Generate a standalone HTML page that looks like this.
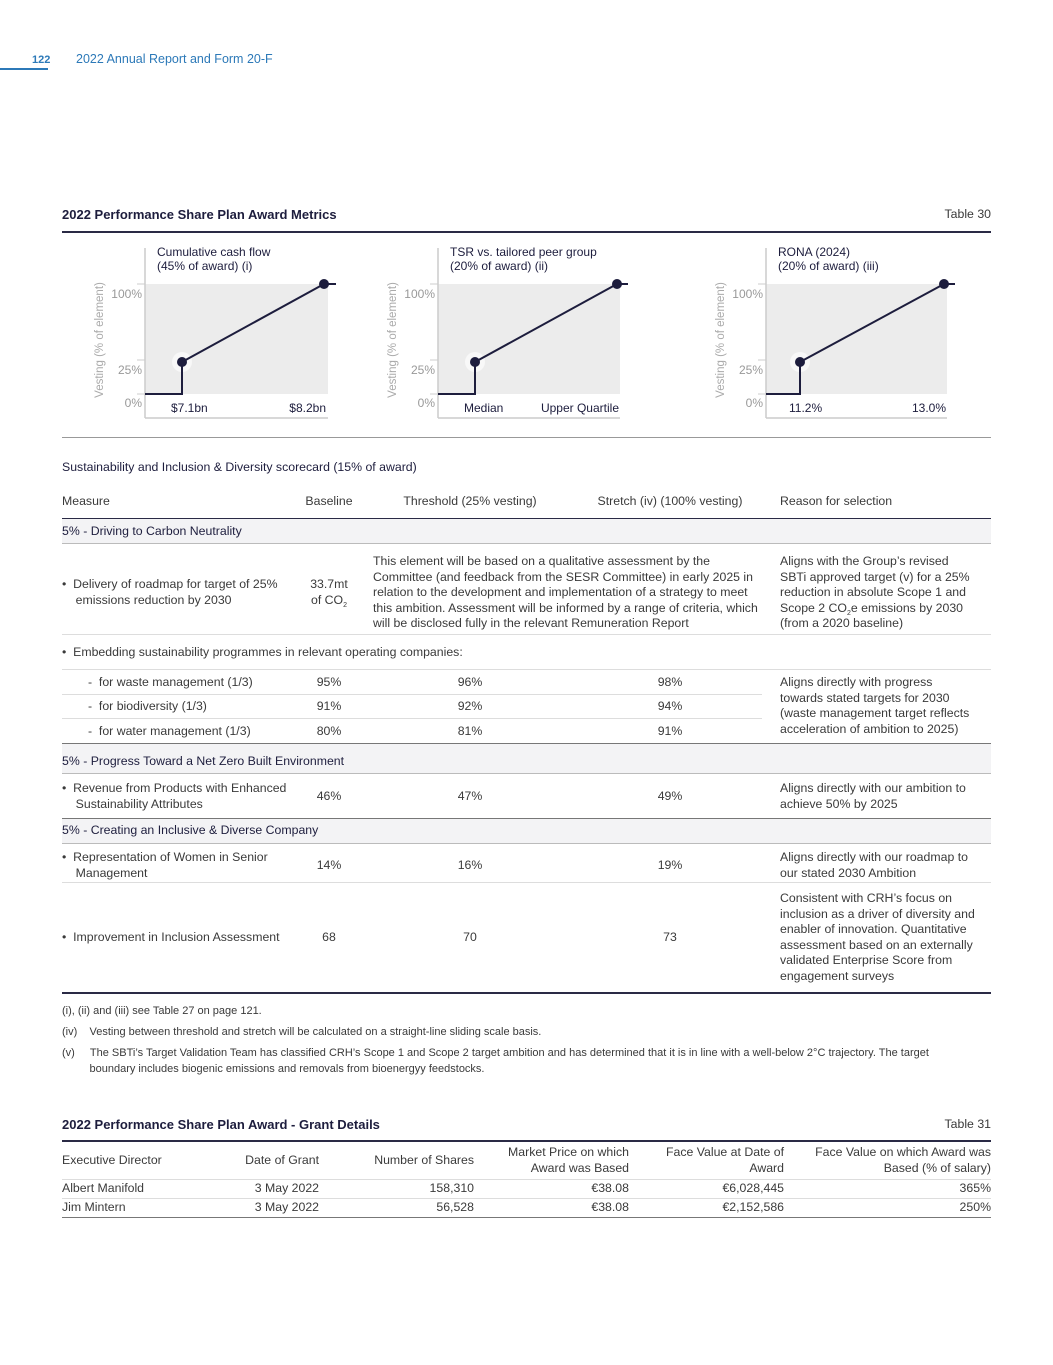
<!DOCTYPE html>
<html><head><meta charset="utf-8"><style>
body{margin:0;width:1053px;height:1365px;background:#fff;position:relative;font-family:"Liberation Sans",sans-serif;color:#3a3a3a;overflow:hidden}
.t{position:absolute;font-size:12.3px;line-height:15.5px;white-space:nowrap}
.c{text-align:center}.r{text-align:right}
.hl{position:absolute;left:62px;width:929px;height:1px;background:#ddd}
.dk{background:#2a2a45;height:1.5px}
.sec{position:absolute;left:62px;width:929px;background:#f3f3f5}
.navy{color:#1d1d3d}
sub{font-size:7px;vertical-align:baseline;position:relative;top:3px;line-height:0}
</style></head><body>
<div style="position:absolute;left:0;top:68px;width:48px;height:2px;background:#2c79b8"></div>
<div class="t" style="left:32px;top:53px;color:#2c79b8;font-weight:bold;font-size:11px">122</div>
<div class="t" style="left:76px;top:52px;color:#2c79b8;font-size:12.5px">2022 Annual Report and Form 20-F</div>

<div class="t navy" style="left:62px;top:207px;font-size:13px;font-weight:bold">2022 Performance Share Plan Award Metrics</div>
<div class="t" style="right:62px;top:207px">Table 30</div>
<div class="hl dk" style="top:231px"></div>

<svg width="1053" height="200" style="position:absolute;left:0;top:240px" id="charts"></svg>
<div class="hl" style="top:437px;background:#999"></div>

<div class="t navy" style="left:62px;top:460px">Sustainability and Inclusion &amp; Diversity scorecard (15% of award)</div>
<div class="t" style="left:62px;top:494px">Measure</div>
<div class="t c" style="left:289px;width:80px;top:494px">Baseline</div>
<div class="t c" style="left:380px;width:180px;top:494px">Threshold (25% vesting)</div>
<div class="t c" style="left:570px;width:200px;top:494px">Stretch (iv) (100% vesting)</div>
<div class="t" style="left:780px;top:494px">Reason for selection</div>
<div class="hl dk" style="top:518px"></div>

<div class="sec" style="top:519px;height:24px"></div>
<div class="t navy" style="left:62px;top:524px">5% - Driving to Carbon Neutrality</div>
<div class="hl" style="top:543px;background:#bbb"></div>
<div class="t" style="left:62px;top:577px">•&nbsp; Delivery of roadmap for target of 25%<br>&nbsp;&nbsp;&nbsp; emissions reduction by 2030</div>
<div class="t c" style="left:289px;width:80px;top:577px">33.7mt<br>of CO<sub>2</sub></div>
<div class="t" style="left:373px;top:554px">This element will be based on a qualitative assessment by the<br>Committee (and feedback from the SESR Committee) in early 2025 in<br>relation to the development and implementation of a strategy to meet<br>this ambition. Assessment will be informed by a range of criteria, which<br>will be disclosed fully in the relevant Remuneration Report</div>
<div class="t" style="left:780px;top:554px">Aligns with the Group’s revised<br>SBTi approved target (v) for a 25%<br>reduction in absolute Scope 1 and<br>Scope 2 CO<sub>2</sub>e emissions by 2030<br>(from a 2020 baseline)</div>
<div class="hl" style="top:634px"></div>
<div class="t" style="left:62px;top:645px">•&nbsp; Embedding sustainability programmes in relevant operating companies:</div>
<div class="hl" style="top:669px"></div>
<div class="t" style="left:88px;top:675px">-&nbsp; for waste management (1/3)</div>
<div class="t c" style="left:289px;width:80px;top:675px">95%</div><div class="t c" style="left:380px;width:180px;top:675px">96%</div><div class="t c" style="left:570px;width:200px;top:675px">98%</div>
<div class="hl" style="top:694px;width:700px"></div>
<div class="t" style="left:88px;top:699px">-&nbsp; for biodiversity (1/3)</div>
<div class="t c" style="left:289px;width:80px;top:699px">91%</div><div class="t c" style="left:380px;width:180px;top:699px">92%</div><div class="t c" style="left:570px;width:200px;top:699px">94%</div>
<div class="hl" style="top:718px;width:700px"></div>
<div class="t" style="left:88px;top:724px">-&nbsp; for water management (1/3)</div>
<div class="t c" style="left:289px;width:80px;top:724px">80%</div><div class="t c" style="left:380px;width:180px;top:724px">81%</div><div class="t c" style="left:570px;width:200px;top:724px">91%</div>
<div class="t" style="left:780px;top:675px">Aligns directly with progress<br>towards stated targets for 2030<br>(waste management target reflects<br>acceleration of ambition to 2025)</div>
<div class="hl" style="top:743px;background:#777"></div>

<div class="sec" style="top:744px;height:29px"></div>
<div class="t navy" style="left:62px;top:754px">5% - Progress Toward a Net Zero Built Environment</div>
<div class="hl" style="top:773px;background:#bbb"></div>
<div class="t" style="left:62px;top:781px">•&nbsp; Revenue from Products with Enhanced<br>&nbsp;&nbsp;&nbsp; Sustainability Attributes</div>
<div class="t c" style="left:289px;width:80px;top:789px">46%</div><div class="t c" style="left:380px;width:180px;top:789px">47%</div><div class="t c" style="left:570px;width:200px;top:789px">49%</div>
<div class="t" style="left:780px;top:781px">Aligns directly with our ambition to<br>achieve 50% by 2025</div>
<div class="hl" style="top:818px;background:#777"></div>

<div class="sec" style="top:819px;height:24px"></div>
<div class="t navy" style="left:62px;top:823px">5% - Creating an Inclusive &amp; Diverse Company</div>
<div class="hl" style="top:843px;background:#bbb"></div>
<div class="t" style="left:62px;top:850px">•&nbsp; Representation of Women in Senior<br>&nbsp;&nbsp;&nbsp; Management</div>
<div class="t c" style="left:289px;width:80px;top:858px">14%</div><div class="t c" style="left:380px;width:180px;top:858px">16%</div><div class="t c" style="left:570px;width:200px;top:858px">19%</div>
<div class="t" style="left:780px;top:850px">Aligns directly with our roadmap to<br>our stated 2030 Ambition</div>
<div class="hl" style="top:882px"></div>
<div class="t" style="left:62px;top:930px">•&nbsp; Improvement in Inclusion Assessment</div>
<div class="t c" style="left:289px;width:80px;top:930px">68</div><div class="t c" style="left:380px;width:180px;top:930px">70</div><div class="t c" style="left:570px;width:200px;top:930px">73</div>
<div class="t" style="left:780px;top:891px">Consistent with CRH’s focus on<br>inclusion as a driver of diversity and<br>enabler of innovation. Quantitative<br>assessment based on an externally<br>validated Enterprise Score from<br>engagement surveys</div>
<div class="hl dk" style="top:992px"></div>

<div class="t" style="left:62px;top:1004px;font-size:11px">(i), (ii) and (iii) see Table 27 on page 121.</div>
<div class="t" style="left:62px;top:1025px;font-size:11px">(iv)&nbsp;&nbsp;&nbsp; Vesting between threshold and stretch will be calculated on a straight-line sliding scale basis.</div>
<div class="t" style="left:62px;top:1046px;font-size:11px">(v)&nbsp;&nbsp;&nbsp;&nbsp; The SBTi’s Target Validation Team has classified CRH’s Scope 1 and Scope 2 target ambition and has determined that it is in line with a well-below 2°C trajectory. The target<br>&nbsp;&nbsp;&nbsp;&nbsp;&nbsp;&nbsp;&nbsp;&nbsp; boundary includes biogenic emissions and removals from bioenergyy feedstocks.</div>

<div class="t navy" style="left:62px;top:1117px;font-size:13px;font-weight:bold">2022 Performance Share Plan Award - Grant Details</div>
<div class="t" style="right:62px;top:1117px">Table 31</div>
<div class="hl dk" style="top:1140px"></div>
<div class="t" style="left:62px;top:1153px">Executive Director</div>
<div class="t r" style="right:734px;top:1153px">Date of Grant</div>
<div class="t r" style="right:579px;top:1153px">Number of Shares</div>
<div class="t r" style="right:424px;top:1145px">Market Price on which<br>Award was Based</div>
<div class="t r" style="right:269px;top:1145px">Face Value at Date of<br>Award</div>
<div class="t r" style="right:62px;top:1145px">Face Value on which Award was<br>Based (% of salary)</div>
<div class="hl" style="top:1179px"></div>
<div class="t" style="left:62px;top:1181px">Albert Manifold</div><div class="t r" style="right:734px;top:1181px">3 May 2022</div><div class="t r" style="right:579px;top:1181px">158,310</div><div class="t r" style="right:424px;top:1181px">€38.08</div><div class="t r" style="right:269px;top:1181px">€6,028,445</div><div class="t r" style="right:62px;top:1181px">365%</div>
<div class="hl" style="top:1198px"></div>
<div class="t" style="left:62px;top:1200px">Jim Mintern</div><div class="t r" style="right:734px;top:1200px">3 May 2022</div><div class="t r" style="right:579px;top:1200px">56,528</div><div class="t r" style="right:424px;top:1200px">€38.08</div><div class="t r" style="right:269px;top:1200px">€2,152,586</div><div class="t r" style="right:62px;top:1200px">250%</div>
<div class="hl" style="top:1217px;background:#777"></div>

<script>
const chartTitles1=["Cumulative cash flow","TSR vs. tailored peer group","RONA (2024)"];
const chartTitles2=["(45% of award) (i)","(20% of award) (ii)","(20% of award) (iii)"];
const thresholdLabels=["$7.1bn","Median","11.2%"];
const stretchLabels=["$8.2bn","Upper Quartile","13.0%"];
const thresholdVest=[25,25,25];
const stretchVest=[100,100,100];
const yTicks=[0,25,100];
const axisX=[145,438,766], plotW=[183,182,181], thrX=[37,37,34], strX=[179,179,178];
const svg=document.getElementById('charts');
const NS='http://www.w3.org/2000/svg';
function mk(t,a,txt){const e=document.createElementNS(NS,t);for(const k in a)e.setAttribute(k,a[k]);if(txt!==undefined)e.textContent=txt;svg.appendChild(e);return e;}
function yv(v){return v===0?154:(v===25?122:44);}
for(let i=0;i<3;i++){
  const x0=axisX[i];
  mk('rect',{x:x0,y:44,width:plotW[i],height:110,fill:'#ececec'});
  mk('line',{x1:x0,y1:8,x2:x0,y2:178,stroke:'#ccc','stroke-width':1.5});
  mk('line',{x1:x0,y1:178,x2:x0+plotW[i],y2:178,stroke:'#ccc','stroke-width':1.5});
  yTicks.forEach(v=>{const yy=v===25?120:yv(v);mk('line',{x1:x0-8,y1:yy,x2:x0,y2:yy,stroke:'#ccc'});
    const tx=mk('text',{x:x0-3,y:yy+(v===0?13:14),'text-anchor':'end','font-size':12,fill:'#999','font-family':'Liberation Sans'},v+'%');
    
    });
  const yl=mk('text',{transform:`translate(${x0-42},${100}) rotate(-90)`,'text-anchor':'middle','font-size':11.5,fill:'#aaa','font-family':'Liberation Sans'},'Vesting (% of element)');
  
  
  mk('text',{x:x0+12,y:16,'font-size':12,fill:'#1d1d3d','font-family':'Liberation Sans'},chartTitles1[i]);
  mk('text',{x:x0+12,y:30,'font-size':12,fill:'#1d1d3d','font-family':'Liberation Sans'},chartTitles2[i]);
  const tX=x0+thrX[i], sX=x0+strX[i];
  const ty=yv(thresholdVest[i]), sy=yv(stretchVest[i]);
  mk('circle',{cx:tX,cy:ty,r:10,fill:'#f8f8f8'});
  mk('polyline',{points:`${x0},154 ${tX},154 ${tX},${ty} ${sX},${sy} ${x0+plotW[i]+8},${sy}`,fill:'none',stroke:'#1d1d3d','stroke-width':2});
  const p1=mk('circle',{cx:tX,cy:ty,r:5,fill:'#1d1d3d'});
  
  
  const p2=mk('circle',{cx:sX,cy:sy,r:5,fill:'#1d1d3d'});
  
  
  mk('text',{x:tX-11,y:172,'font-size':12,fill:'#1d1d3d','font-family':'Liberation Sans'},thresholdLabels[i]);
  mk('text',{x:sX+2,y:172,'text-anchor':'end','font-size':12,fill:'#1d1d3d','font-family':'Liberation Sans'},stretchLabels[i]);
}
</script>
</body></html>
